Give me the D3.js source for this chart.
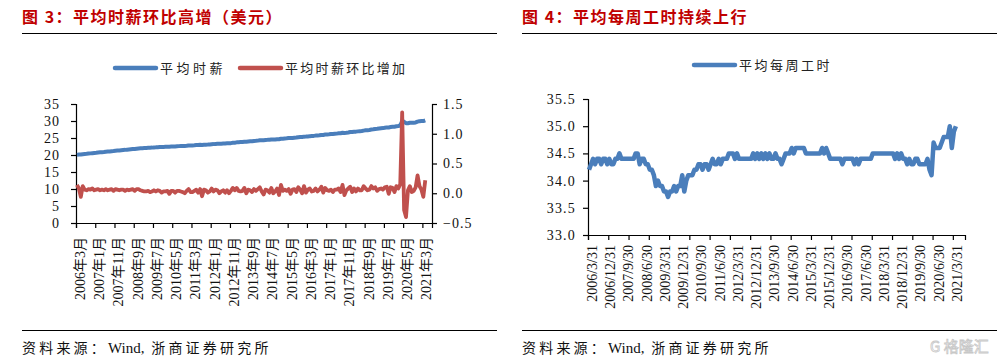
<!DOCTYPE html>
<html><head><meta charset="utf-8">
<script src="https://cdn.jsdelivr.net/npm/d3@7"></script>
<style>
html,body{margin:0;padding:0;background:#fff;}
svg{display:block;}
</style>
</head><body>
<svg id="c" width="1005" height="360"></svg>
<script>
// ---------- DATA ----------
const startYear = 2006, startMonth = 3, nMonths = 182; // 2006-03 .. 2021-04
const months = [];
for (let k = 0; k < nMonths; k++) {
  const m = startMonth - 1 + k;
  months.push((startYear + Math.floor(m / 12)) + "-" + String(m % 12 + 1).padStart(2, "0"));
}
// 平均时薪 (USD)
const wage = [
  20.04,20.12,20.15,20.24,20.30,20.35,20.42,20.48,20.54,20.61,
  20.66,20.73,20.78,20.84,20.89,20.96,21.01,21.06,21.13,21.17,21.24,21.30,
  21.35,21.41,21.47,21.51,21.57,21.62,21.68,21.75,21.79,21.86,21.93,21.98,
  22.02,22.05,22.08,22.12,22.14,22.17,22.22,22.25,22.30,22.34,22.35,22.38,
  22.41,22.45,22.44,22.48,22.52,22.53,22.57,22.61,22.64,22.66,22.66,22.70,
  22.77,22.79,22.81,22.85,22.91,22.92,22.99,22.94,23.00,23.05,23.06,23.09,
  23.17,23.20,23.26,23.31,23.31,23.34,23.39,23.40,23.45,23.45,23.49,23.58,
  23.63,23.72,23.76,23.79,23.83,23.92,23.92,23.98,24.03,24.05,24.12,24.16,
  24.23,24.33,24.36,24.34,24.40,24.45,24.46,24.55,24.55,24.58,24.66,24.63,
  24.77,24.81,24.87,24.91,24.98,24.97,25.03,25.10,25.12,25.22,25.28,25.28,
  25.40,25.41,25.47,25.55,25.58,25.62,25.70,25.73,25.79,25.90,25.91,26.00,
  26.05,26.09,26.15,26.17,26.23,26.29,26.37,26.39,26.53,26.50,26.55,26.63,
  26.74,26.76,26.84,26.87,26.95,27.00,27.05,27.17,27.25,27.30,27.36,27.48,
  27.56,27.66,27.70,27.77,27.85,27.91,28.01,28.12,28.11,28.21,28.30,28.32,
  28.44,28.52,28.67,30.03,29.75,29.37,29.35,29.47,29.47,29.50,29.58,29.81,
  29.96,30.01,29.97,30.17
];
// 平均时薪环比增加 (USD)
const wageChange = [
  0.14,0.08,-0.06,0.12,0.06,0.05,0.07,0.06,0.08,0.05,
  0.06,0.07,0.05,0.06,0.05,0.07,0.05,0.06,0.07,0.04,0.07,0.06,
  0.05,0.06,0.06,0.04,0.06,0.05,0.06,0.07,0.04,0.07,0.07,0.05,
  0.04,0.03,0.03,0.04,0.02,0.03,0.05,0.03,0.05,0.04,0.01,0.03,
  0.03,0.04,-0.01,0.04,0.04,0.01,0.04,0.04,0.03,0.02,0.00,0.04,
  0.07,0.02,0.02,0.04,0.06,0.01,0.07,-0.05,0.06,0.05,0.01,0.03,
  0.08,0.03,0.06,0.05,0.00,0.03,0.05,0.01,0.05,0.00,0.04,0.09,
  0.05,0.09,0.04,0.03,0.04,0.09,0.00,0.06,0.05,0.02,0.07,0.04,
  0.07,0.10,0.03,-0.02,0.06,0.05,0.01,0.09,0.00,0.03,0.08,-0.03,
  0.14,0.04,0.06,0.04,0.07,-0.01,0.06,0.07,0.02,0.10,0.06,0.00,
  0.12,0.01,0.06,0.08,0.03,0.04,0.08,0.03,0.06,0.11,0.01,0.09,
  0.05,0.04,0.06,0.02,0.06,0.06,0.08,0.02,0.14,-0.03,0.05,0.08,
  0.11,0.02,0.08,0.03,0.08,0.05,0.05,0.12,0.08,0.05,0.06,0.12,
  0.08,0.10,0.04,0.07,0.08,0.06,0.10,0.11,-0.01,0.10,0.09,0.02,
  0.12,0.08,0.15,1.36,-0.28,-0.40,0.05,0.12,0.02,0.04,0.10,0.30,
  0.12,0.06,-0.06,0.22
];
// 平均每周工时 (hours)
const hours = [
  34.2,34.3,34.4,34.3,34.4,34.4,34.3,34.4,34.4,34.3,
  34.4,34.3,34.3,34.4,34.4,34.5,34.4,34.4,34.4,34.4,34.4,34.4,
  34.4,34.5,34.5,34.3,34.4,34.4,34.3,34.3,34.2,34.2,34.1,33.9,
  34.0,33.9,33.9,33.8,33.8,33.7,33.8,33.8,33.9,33.8,33.9,33.9,
  34.1,33.8,34.0,34.1,34.1,34.1,34.2,34.2,34.3,34.3,34.2,34.3,
  34.3,34.2,34.3,34.4,34.3,34.3,34.4,34.3,34.4,34.4,34.4,34.5,
  34.5,34.5,34.4,34.5,34.4,34.4,34.4,34.4,34.4,34.4,34.4,34.5,
  34.4,34.5,34.4,34.5,34.4,34.5,34.4,34.5,34.4,34.4,34.5,34.4,
  34.4,34.3,34.4,34.5,34.5,34.5,34.6,34.5,34.6,34.6,34.6,34.6,
  34.6,34.5,34.5,34.5,34.5,34.5,34.5,34.5,34.5,34.6,34.5,34.6,
  34.5,34.4,34.4,34.4,34.4,34.4,34.4,34.3,34.4,34.4,34.4,34.4,
  34.4,34.3,34.4,34.3,34.4,34.4,34.4,34.4,34.4,34.4,34.5,34.5,
  34.5,34.5,34.5,34.5,34.5,34.5,34.5,34.5,34.5,34.4,34.5,34.4,
  34.5,34.4,34.4,34.3,34.4,34.3,34.3,34.4,34.4,34.3,34.3,34.3,
  34.3,34.4,34.2,34.1,34.7,34.6,34.6,34.6,34.7,34.8,34.8,34.8,
  35.0,34.6,34.9,35.0
];
// tick labels
const leftXLabels = ["2006年3月","2007年1月","2007年11月","2008年9月","2009年7月","2010年5月","2011年3月","2012年1月","2012年11月","2013年9月","2014年7月","2015年5月","2016年3月","2017年1月","2017年11月","2018年9月","2019年7月","2020年5月","2021年3月"];
const rightXLabels = ["2006/3/31","2006/12/31","2007/9/30","2008/6/30","2009/3/31","2009/12/31","2010/9/30","2011/6/30","2012/3/31","2012/12/31","2013/9/30","2014/6/30","2015/3/31","2015/12/31","2016/9/30","2017/6/30","2018/3/31","2018/12/31","2019/9/30","2020/6/30","2021/3/31"];
const leftYTicks = [0,5,10,15,20,25,30,35];
const rightYTicks = [-0.5,0,0.5,1.0,1.5];
const hoursYTicks = [33.0,33.5,34.0,34.5,35.0,35.5];
const titles = ["图 3：平均时薪环比高增（美元）","图 4：平均每周工时持续上行"];
const legendLeft = ["平均时薪","平均时薪环比增加"];
const legendRight = ["平均每周工时"];
const sourceParts = ["资料来源：", "Wind,", " 浙商证券研究所"];

// ---------- DRAW ----------
const BLUE = "#4a7ebb", RED = "#c0504d", TITLE = "#c00000";
const svg = d3.select("#c");
const serif = '"Liberation Serif","Noto Sans CJK SC",serif';
const cjk = '"Noto Sans CJK SC",sans-serif';

function header(x0, x1, title) {
  svg.append("text").attr("x", x0).attr("y", 23).attr("font-family", cjk)
    .attr("font-weight", "bold").attr("font-size", 16).attr("letter-spacing", 1.5)
    .attr("fill", TITLE).text(title);
  svg.append("line").attr("x1", x0).attr("x2", x1).attr("y1", 33.5).attr("y2", 33.5)
    .attr("stroke", "#000").attr("stroke-width", 1.2);
  svg.append("line").attr("x1", x0).attr("x2", x1).attr("y1", 330.5).attr("y2", 330.5)
    .attr("stroke", "#000").attr("stroke-width", 1.2);
  const t = svg.append("text").attr("x", x0).attr("y", 353).attr("font-family", serif)
    .attr("font-size", 14).attr("fill", "#111");
  t.append("tspan").attr("letter-spacing", 3.2).text(sourceParts[0]);
  t.append("tspan").attr("font-size", 15).attr("letter-spacing", 0).text(sourceParts[1]);
  t.append("tspan").attr("letter-spacing", 3.2).text(sourceParts[2]);
}
function legendItem(x, y, color, label, ls) {
  svg.append("line").attr("x1", x).attr("x2", x + 41).attr("y1", y).attr("y2", y)
    .attr("stroke", color).attr("stroke-width", 4.5).attr("stroke-linecap", "round");
  svg.append("text").attr("x", x + 45).attr("y", y).attr("dy", "0.35em")
    .attr("font-family", cjk).attr("font-size", 13).attr("letter-spacing", ls)
    .attr("fill", "#222").text(label);
}
function styleAxis(g) {
  g.selectAll(".domain").attr("stroke", "#000").attr("stroke-width", 1.2);
  g.selectAll(".tick line").attr("stroke", "#000").attr("stroke-width", 1.2);
  g.selectAll("text").attr("font-family", serif).attr("font-size", 14).attr("fill", "#111");
}

// ----- left chart -----
header(22, 497, titles[0]);
legendItem(115, 68, BLUE, legendLeft[0], 3.5);
legendItem(240, 68, RED, legendLeft[1], 2.3);

const xL = d3.scaleLinear().domain([0, 185]).range([76, 432]);
const yL = d3.scaleLinear().domain([0, 35]).range([223, 104]);
const yR = d3.scaleLinear().domain([-0.5, 1.5]).range([223, 104]);

const gLy = svg.append("g").attr("transform", "translate(76,0)")
  .call(d3.axisLeft(yL).tickValues(leftYTicks).tickSize(5).tickPadding(11));
styleAxis(gLy);
gLy.selectAll("text").attr("letter-spacing", 1);
const gRy = svg.append("g").attr("transform", "translate(432,0)")
  .call(d3.axisRight(yR).tickValues(rightYTicks).tickSize(5).tickPadding(6).tickFormat(d3.format(".1f")));
styleAxis(gRy);
gRy.selectAll("text").attr("letter-spacing", 1);
const gLx = svg.append("g").attr("transform", "translate(0,223)")
  .call(d3.axisBottom(xL).tickValues(d3.range(0, 181, 10)).tickSize(5).tickFormat(""));
styleAxis(gLx);
const gLxl = svg.append("g").attr("transform", "translate(0,223)")
  .call(d3.axisBottom(xL).tickValues(leftXLabels.map((d, k) => k * 10 + 0.5))
    .tickSize(0).tickFormat((d, k) => leftXLabels[k]));
gLxl.select(".domain").remove();
styleAxis(gLxl);
gLxl.selectAll("text").attr("transform", "rotate(-90)").attr("text-anchor", "end")
  .attr("x", -14).attr("y", 2.5).attr("dy", "0.35em");

const lineWage = d3.line().x((d, i) => xL(i + 0.5)).y(d => yL(d));
const lineChg = d3.line().x((d, i) => xL(i + 0.5)).y(d => yR(d));
svg.append("path").datum(wage).attr("d", lineWage).attr("fill", "none")
  .attr("stroke", BLUE).attr("stroke-width", 4).attr("stroke-linejoin", "round");
svg.append("path").datum(wageChange).attr("d", lineChg).attr("fill", "none")
  .attr("stroke", RED).attr("stroke-width", 3.8).attr("stroke-linejoin", "round");

// ----- right chart -----
header(522, 997, titles[1]);
legendItem(694, 65, BLUE, legendRight[0], 2.5);

const xH = d3.scaleLinear().domain([0, 186]).range([588, 965]);
const yH = d3.scaleLinear().domain([33, 35.5]).range([235, 99]);
const gHy = svg.append("g").attr("transform", "translate(588,0)")
  .call(d3.axisLeft(yH).tickValues(hoursYTicks).tickSize(5).tickPadding(7).tickFormat(d3.format(".1f")));
styleAxis(gHy);
gHy.selectAll("text").attr("letter-spacing", 1.2);
const gHx = svg.append("g").attr("transform", "translate(0,235)")
  .call(d3.axisBottom(xH).tickValues(d3.range(0, 181, 10)).tickSize(5).tickFormat(""));
styleAxis(gHx);
const gHxl = svg.append("g").attr("transform", "translate(0,235)")
  .call(d3.axisBottom(xH).tickValues(rightXLabels.map((d, k) => k * 9 + 0.5))
    .tickSize(0).tickFormat((d, k) => rightXLabels[k]));
gHxl.select(".domain").remove();
styleAxis(gHxl);
gHxl.selectAll("text").attr("transform", "rotate(-90)").attr("text-anchor", "end")
  .attr("x", -10).attr("y", 2.5).attr("dy", "0.35em");

const lineH = d3.line().x((d, i) => xH(i + 0.5)).y(d => yH(d));
svg.append("path").datum(hours).attr("d", lineH).attr("fill", "none")
  .attr("stroke", BLUE).attr("stroke-width", 4.5).attr("stroke-linejoin", "round");

// watermark
svg.append("text").attr("x", 930).attr("y", 352).attr("font-family", cjk)
  .attr("font-size", 15).attr("fill", "none").attr("stroke", "#c8c8c8").attr("stroke-width", 0.8)
  .text("G 格隆汇");
</script>
</body></html>
